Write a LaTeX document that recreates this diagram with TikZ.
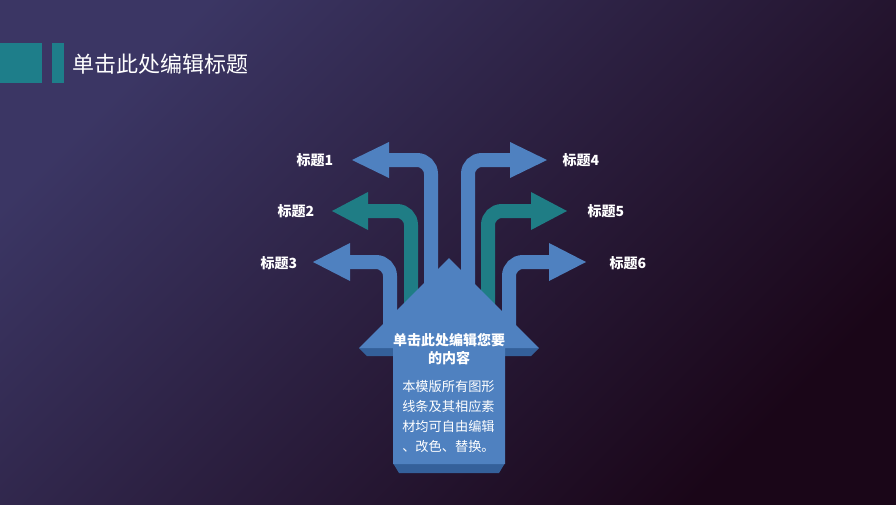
\documentclass[tikz,border=0pt]{standalone}
\usepackage{fontspec}
\newfontfamily\cjk{Noto Sans CJK SC}
\definecolor{bgtl}{HTML}{3B3664}
\definecolor{bgmid}{HTML}{291733}
\definecolor{bgbr}{HTML}{1A0618}
\definecolor{arrowblue}{HTML}{4F81C0}
\definecolor{arrowteal}{HTML}{1F7D85}
\definecolor{shadowblue}{HTML}{34609A}
\definecolor{barteal}{HTML}{1E7E8A}
\tikzset{
  band/.style={line width=10.5pt, line cap=butt, rounded corners=10.5pt},
  lbl/.style={text=white, font=\cjk\bfseries\fontsize{10.5pt}{12pt}\selectfont, inner sep=0pt},
}
\begin{document}
\begin{tikzpicture}[x=0.75pt,y=-0.75pt]
\useasboundingbox (0,0) rectangle (896,504);
\shade[left color=bgtl, middle color=bgmid, right color=bgbr, shading angle=45] (0,0) rectangle (896,504);
% title bar
\fill[barteal] (0,43) rectangle (42,83);
\fill[barteal] (52,43) rectangle (64,83);
\node[anchor=west, text=white, inner sep=0pt, font=\cjk\fontsize{16.5pt}{18pt}\selectfont] (title) at (72,64) {单击此处编辑标题};
% arrows left
\draw[band, arrowblue] (431,300) -- (431,160) -- (388,160);
\fill[arrowblue] (389,142) -- (352,160) -- (389,178) -- cycle;
\draw[band, arrowteal] (411,315) -- (411,211) -- (367,211);
\fill[arrowteal] (368,192) -- (332,211) -- (368,230) -- cycle;
\draw[band, arrowblue] (390,335) -- (390,262) -- (349,262);
\fill[arrowblue] (350,243) -- (313,262) -- (350,281) -- cycle;
% arrows right
\draw[band, arrowblue] (468,300) -- (468,160) -- (511,160);
\fill[arrowblue] (510,142) -- (547,160) -- (510,178) -- cycle;
\draw[band, arrowteal] (488,315) -- (488,211) -- (532,211);
\fill[arrowteal] (531,192) -- (567,211) -- (531,230) -- cycle;
\draw[band, arrowblue] (509,335) -- (509,262) -- (550,262);
\fill[arrowblue] (549,243) -- (586,262) -- (549,281) -- cycle;
% house 3D edges
\fill[shadowblue] (359,348) -- (394,348) -- (394,356) -- (367,356) -- cycle;
\fill[shadowblue] (539,348) -- (504,348) -- (504,356) -- (531,356) -- cycle;
\fill[shadowblue] (393,463) -- (505,463) -- (499,473) -- (399,473) -- cycle;
% house face
\fill[arrowblue] (449,258) -- (359,348) -- (393,348) -- (393,464) -- (505,464) -- (505,348) -- (539,348) -- cycle;
% labels
\node[lbl] (l1) at (315,160) {标题1};
\node[lbl] (l2) at (296,211) {标题2};
\node[lbl] (l3) at (279,263) {标题3};
\node[lbl] (l4) at (581,160) {标题4};
\node[lbl] (l5) at (606,211) {标题5};
\node[lbl] (l6) at (628,263) {标题6};
% center text
\node[lbl, align=center, font=\cjk\bfseries\fontsize{10.5pt}{13pt}\selectfont] (head) at (449,349) {单击此处编辑您要\\的内容};
\node[anchor=north west, text=white, inner sep=0pt, align=left, font=\cjk\fontsize{9.9pt}{15pt}\selectfont] (body) at (402,380) {本模版所有图形\\线条及其相应素\\材均可自由编辑\\、改色、替换。};
\end{tikzpicture}
\end{document}
